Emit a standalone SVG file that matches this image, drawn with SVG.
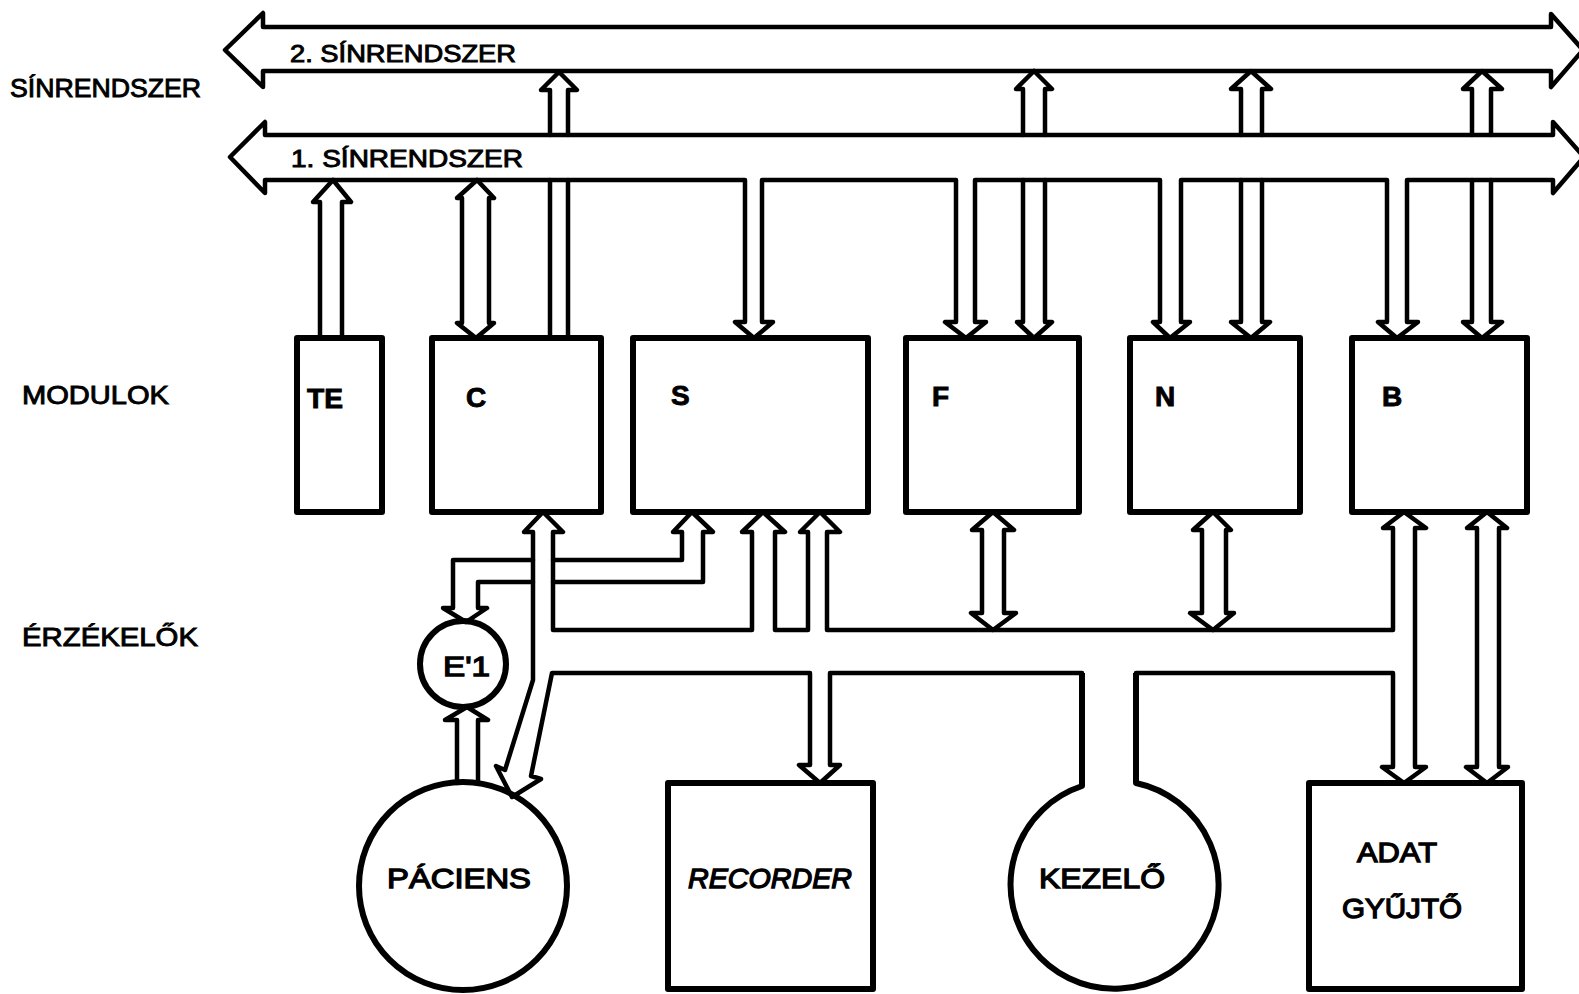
<svg xmlns="http://www.w3.org/2000/svg" width="1579" height="994" viewBox="0 0 1579 994">
<style>
.ln{fill:none;stroke:#000;stroke-width:4.5;stroke-linejoin:round;stroke-linecap:round}
.bx{fill:none;stroke:#000;stroke-width:6;stroke-linejoin:round}
.t{font-family:"Liberation Sans",Arial,sans-serif;fill:#000;stroke:#000;stroke-width:0.9}
.m{font-size:28px;font-weight:bold}
.w{font-size:28px;font-weight:normal;stroke-width:1.3}
.s{font-size:23px}
.l{font-size:25px}
</style>
<rect width="1579" height="994" fill="#fff"/>
<g id="side-labels">
<text class="t l" x="10" y="97" textLength="191" lengthAdjust="spacingAndGlyphs">SÍNRENDSZER</text>
<text class="t l" x="22" y="404" textLength="147" lengthAdjust="spacingAndGlyphs">MODULOK</text>
<text class="t l" x="22" y="646" textLength="176" lengthAdjust="spacingAndGlyphs">ÉRZÉKELŐK</text>
</g>
<g id="bus2">
<path class="ln" d="M263,27 L1551,27 L1551,14 L1583,50 L1551,87 L1551,71 L263,71 L263,87 L225,50 L263,13 Z"/>
<text class="t s" x="290" y="62" textLength="226" lengthAdjust="spacingAndGlyphs">2. SÍNRENDSZER</text>
</g>
<g id="bus1">
<path class="ln" d="M265,135 L1553,135 L1553,122 L1584,157 L1553,193 L1553,180 L1407,180 L1407,322 L1418,322 L1397,338 L1378,322 L1387,322 L1387,180 L1181,180 L1181,322 L1190,322 L1170,338 L1153,322 L1160,322 L1160,180 L975,180 L975,322 L986,322 L966,338 L945,322 L956,322 L956,180 L762,180 L762,322 L773,322 L754,338 L735,322 L745,322 L745,180 L265,180 L265,193 L230,157 L265,122 Z"/>
<text class="t s" x="291" y="167" textLength="232" lengthAdjust="spacingAndGlyphs">1. SÍNRENDSZER</text>
</g>
<g id="TE">
<rect class="bx" x="297" y="338" width="85" height="174"/>
<text class="t m" x="307" y="408" textLength="36" lengthAdjust="spacingAndGlyphs">TE</text>
</g>
<g id="C">
<rect class="bx" x="432" y="338" width="169" height="174"/>
<text class="t m" x="466" y="407">C</text>
</g>
<g id="S">
<rect class="bx" x="633" y="338" width="235" height="174"/>
<text class="t m" x="671" y="405">S</text>
</g>
<g id="F">
<rect class="bx" x="906" y="338" width="173" height="174"/>
<text class="t m" x="932" y="406">F</text>
</g>
<g id="N">
<rect class="bx" x="1130" y="338" width="170" height="174"/>
<text class="t m" x="1155" y="406">N</text>
</g>
<g id="B">
<rect class="bx" x="1352" y="338" width="175" height="174"/>
<text class="t m" x="1382" y="406">B</text>
</g>
<g id="E1">
<circle class="bx" cx="463" cy="664" r="43"/>
<text class="t w" x="443" y="676" textLength="47" lengthAdjust="spacingAndGlyphs">E'1</text>
</g>
<g id="paciens">
<circle class="bx" cx="463" cy="886" r="104"/>
<text class="t w" x="387" y="888" textLength="144" lengthAdjust="spacingAndGlyphs">PÁCIENS</text>
</g>
<g id="recorder">
<rect class="bx" x="668" y="783" width="205" height="206"/>
<text class="t w" x="688" y="888" textLength="164" lengthAdjust="spacingAndGlyphs" font-style="italic">RECORDER</text>
</g>
<g id="kezelo">
<path class="bx" d="M1136,673 L1136,783 A104,104 0 1,1 1082,786 L1082,673"/>
<text class="t w" x="1039" y="888" textLength="126" lengthAdjust="spacingAndGlyphs">KEZELŐ</text>
</g>
<g id="adatgyujto">
<rect class="bx" x="1309" y="783" width="213" height="206"/>
<text class="t w" x="1357" y="862" textLength="80" lengthAdjust="spacingAndGlyphs">ADAT</text>
<text class="t w" x="1342" y="918" textLength="120" lengthAdjust="spacingAndGlyphs">GYŰJTŐ</text>
</g>
<g id="connectors">
<path class="ln" d="M550,135 L550,90 L541,90 L559,72 L577,90 L568,90 L568,135"/>
<path class="ln" d="M1023,135 L1023,89 L1016,89 L1034,71 L1052,89 L1045,89 L1045,135"/>
<path class="ln" d="M1241,135 L1241,89 L1231,89 L1251,71 L1271,89 L1262,89 L1262,135"/>
<path class="ln" d="M1472,135 L1472,89 L1463,89 L1482,71 L1502,89 L1491,89 L1491,135"/>
<path class="ln" d="M550,180 L550,338 M568,180 L568,338"/>
<path class="ln" d="M1023,180 L1023,322 L1017,322 L1034,338 L1052,322 L1045,322 L1045,180"/>
<path class="ln" d="M1241,180 L1241,322 L1231,322 L1251,338 L1270,322 L1262,322 L1262,180"/>
<path class="ln" d="M1472,180 L1472,322 L1463,322 L1482,338 L1502,322 L1491,322 L1491,180"/>
<path class="ln" d="M320,338 L320,202 L313,202 L333,180 L351,202 L342,202 L342,338"/>
<path class="ln" d="M462,198 L457,198 L477,180 L494,198 L489,198 L489,323 L494,323 L476,338 L457,323 L462,323 Z"/>
<path class="ln" d="M1082,673 L830,673 L830,765 L840,765 L820,783 L799,765 L810,765 L810,673 L552,673 L531,776 L541,779 L512,797 L496,766 L505,770 L533,680 L533,532 L524,532 L543,512 L563,532 L553,532 L553,630 L752,630 L752,532 L742,532 L763,512 L785,532 L775,532 L775,630 L808,630 L808,532 L800,532 L820,512 L840,532 L827,532 L827,630 L1393,630 L1393,528 L1383,528 L1404,512 L1426,528 L1415,528 L1415,767 L1426,767 L1404,783 L1382,767 L1393,767 L1393,673 L1136,673"/>
<path class="ln" d="M533,560 L453,560 L453,608 L443,608 L466,622 L487,608 L478,608 L478,582 L533,582"/>
<path class="ln" d="M553,560 L682,560 L682,532 L673,532 L692,512 L713,532 L703,532 L703,582 L553,582"/>
<path class="ln" d="M982,530 L972,530 L993,512 L1014,530 L1004,530 L1004,613 L1016,613 L993,630 L971,613 L982,613 Z"/>
<path class="ln" d="M1202,530 L1193,530 L1213,512 L1231,530 L1226,530 L1226,613 L1234,613 L1213,630 L1190,613 L1202,613 Z"/>
<path class="ln" d="M1477,528 L1467,528 L1487,512 L1507,528 L1499,528 L1499,767 L1508,767 L1487,783 L1466,767 L1477,767 Z"/>
<path class="ln" d="M457,783 L457,720 L445,720 L467,707 L488,720 L478,720 L478,783"/>
</g>
</svg>
